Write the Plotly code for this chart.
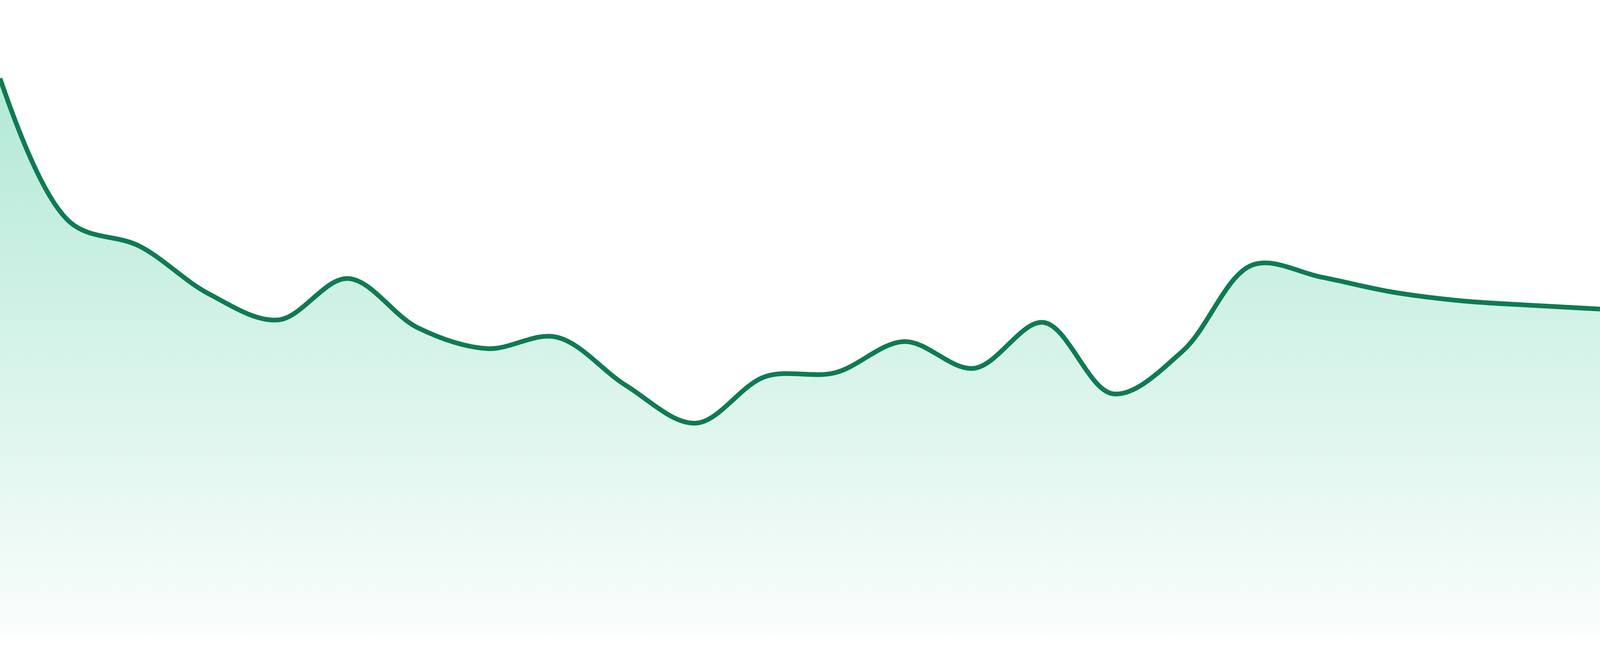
import plotly.graph_objects as go

# one value per period
periods = list(range(1, 25))
values = [87.7, 65.2, 61.4, 53.9, 49.8, 56.3, 48.6, 45.3, 47.1, 39.5, 33.6, 40.9,
          41.5, 46.4, 42.2, 49.4, 38.2, 44.9, 58.4, 56.5, 54.2, 52.8, 52.1, 51.5]

LINE = '#0f7b52'

fig = go.Figure()
fig.add_trace(go.Scatter(
    x=periods, y=values, mode='lines',
    line=dict(color=LINE, width=12, shape='spline', smoothing=1.0),
    fill='tozeroy',
    fillgradient=dict(type='vertical',
                      colorscale=[[0, 'rgba(16,185,129,0.02)'],
                                  [1, 'rgba(16,185,129,0.32)']]),
    hoverinfo='skip', showlegend=False))

fig.update_layout(
    autosize=True,
    margin=dict(l=0, r=0, t=0, b=48),
    paper_bgcolor='white', plot_bgcolor='white',
    xaxis=dict(range=[1, 24], visible=False, fixedrange=True),
    yaxis=dict(range=[0, 100], visible=False, fixedrange=True),
)

# fill the whole window, no page margin
fig.write_html("out.html", config={'displayModeBar': False, 'responsive': True},
               default_width='100vw', default_height='100vh',
               post_script="document.body.style.margin='0';"
                           "document.body.style.overflow='hidden';"
                           "Plotly.Plots.resize(document.getElementById('{plot_id}'));")
